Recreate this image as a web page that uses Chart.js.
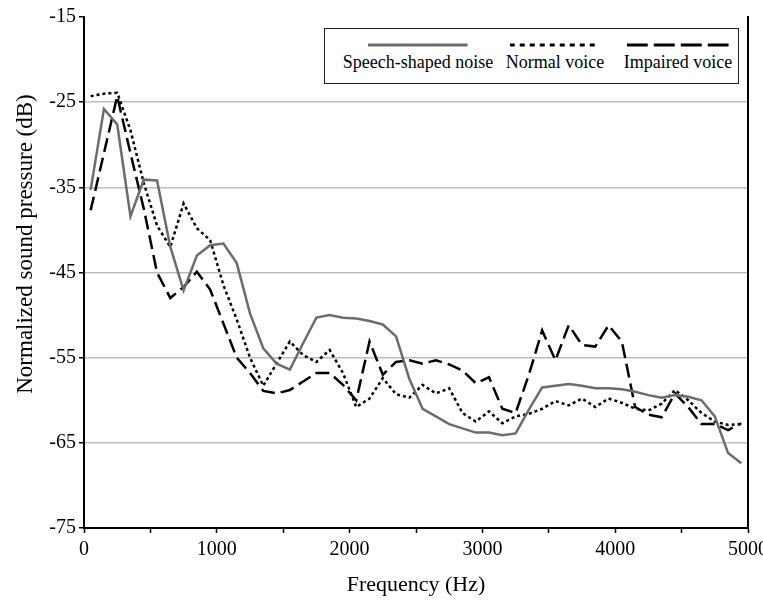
<!DOCTYPE html>
<html>
<head>
<meta charset="utf-8">
<script src="https://cdn.jsdelivr.net/npm/chart.js@4/dist/chart.umd.min.js"></script>
<style>
    body { margin: 0; background: #fff; }
    #wrap { position: relative; width: 763px; height: 600px; }
    #legend {
        position: absolute; left: 324px; top: 28px; width: 413px; height: 54px;
        border: 1px solid #222; background: #fff;
        font-family: "Liberation Serif", "Times New Roman", serif; font-size: 18px; color: #000;
    }
    .item { position: absolute; top: 0; transform: translateX(-50%); text-align: center; }
    .item svg { display: block; margin: 13px auto 0; }
    .item span { display: block; white-space: nowrap; margin-top: 4px; }
</style>
</head>
<body>
<div id="wrap">
    <canvas id="grafico" width="763" height="600"></canvas>
    <div id="legend"></div>
</div>
<script>
// Frequências (Hz)
var frequencias = [50, 150, 250, 350, 450, 550, 650, 750, 850, 950,
    1050, 1150, 1250, 1350, 1450, 1550, 1650, 1750, 1850, 1950,
    2050, 2150, 2250, 2350, 2450, 2550, 2650, 2750, 2850, 2950,
    3050, 3150, 3250, 3350, 3450, 3550, 3650, 3750, 3850, 3950,
    4050, 4150, 4250, 4350, 4450, 4550, 4650, 4750, 4850, 4950];

// Speech-shaped noise
var ruidoFala = [-35.3, -25.8, -27.6, -38.4, -34.1, -34.2, -42.0, -47.1, -43.0, -41.8,
    -41.6, -43.9, -49.8, -53.9, -55.7, -56.4, -53.3, -50.3, -50.0, -50.3,
    -50.4, -50.7, -51.1, -52.5, -57.5, -61.0, -61.9, -62.8, -63.3, -63.8,
    -63.8, -64.1, -63.9, -61.1, -58.5, -58.3, -58.1, -58.3, -58.6, -58.6,
    -58.7, -59.0, -59.4, -59.7, -59.4, -59.6, -60.0, -61.9, -66.2, -67.4];

// Normal voice
var vozNormal = [-24.3, -24.0, -23.9, -28.3, -34.5, -39.5, -42.0, -36.9, -39.8, -41.2,
    -46.5, -50.5, -55.0, -58.3, -55.7, -53.1, -54.7, -55.5, -54.1, -56.8,
    -60.8, -59.8, -57.4, -59.3, -59.7, -58.2, -59.2, -58.6, -61.5, -62.5,
    -61.3, -62.7, -61.9, -61.6, -61.0, -60.1, -60.6, -59.8, -60.8, -59.8,
    -60.3, -61.0, -61.2, -60.4, -58.8, -60.0, -61.5, -62.5, -62.9, -62.8];

// Impaired voice
var vozAlterada = [-37.7, -31.0, -24.3, -31.0, -37.5, -45.0, -48.0, -46.7, -44.9, -47.0,
    -51.0, -55.0, -56.8, -58.9, -59.2, -58.8, -57.8, -56.8, -56.8, -58.2,
    -60.0, -53.1, -57.0, -55.5, -55.3, -55.7, -55.3, -55.8, -56.5, -58.0,
    -57.3, -61.0, -61.5, -57.0, -51.8, -55.3, -51.2, -53.5, -53.7, -51.2,
    -53.1, -60.8, -61.7, -62.0, -59.2, -60.8, -62.8, -62.8, -63.5, -62.7];

var nomesSeries = ['Speech-shaped noise', 'Normal voice', 'Impaired voice'];

var fonte = '"Liberation Serif", "Times New Roman", serif';

function pontos(valores) {
    return valores.map(function (v, i) { return { x: frequencias[i], y: v }; });
}

// Título do eixo Y desenhado um pouco acima do centro, como no original
var tituloY = {
    id: 'tituloY',
    afterDraw: function (chart) {
        var ctx = chart.ctx;
        ctx.save();
        ctx.translate(26, 244);
        ctx.rotate(-Math.PI / 2);
        ctx.font = '23px ' + fonte;
        ctx.fillStyle = '#000';
        ctx.textAlign = 'center';
        ctx.textBaseline = 'middle';
        ctx.fillText('Normalized sound pressure (dB)', 0, 0);
        ctx.restore();
    }
};

var ctx = document.getElementById('grafico').getContext('2d');
var grafico = new Chart(ctx, {
    type: 'line',
    data: {
        datasets: [{
            label: nomesSeries[0],
            data: pontos(ruidoFala),
            borderColor: '#6c6c6c',
            borderWidth: 2.5,
            pointRadius: 0,
            tension: 0
        }, {
            label: nomesSeries[1],
            data: pontos(vozNormal),
            borderColor: '#000',
            borderWidth: 2.5,
            borderDash: [3, 3],
            pointRadius: 0,
            tension: 0
        }, {
            label: nomesSeries[2],
            data: pontos(vozAlterada),
            borderColor: '#000',
            borderWidth: 2.5,
            borderDash: [14, 6],
            pointRadius: 0,
            tension: 0
        }]
    },
    options: {
        responsive: false,
        animation: false,
        layout: { padding: { top: 17, left: 0, right: 0, bottom: 0 } },
        plugins: {
            legend: { display: false },
            tooltip: { enabled: false }
        },
        scales: {
            x: {
                type: 'linear',
                min: 0,
                max: 5000,
                afterFit: function (scale) {
                    scale.height = 72;
                    scale.paddingRight = 0;
                    scale.paddingLeft = 0;
                },
                ticks: {
                    stepSize: 500,
                    autoSkip: false,
                    maxRotation: 0,
                    padding: 5,
                    color: '#000',
                    font: { family: fonte, size: 20 },
                    callback: function (v) { return v % 1000 === 0 ? v : ''; }
                },
                grid: { drawOnChartArea: false, drawTicks: true, tickLength: 5, tickColor: '#000', tickWidth: 1.5 },
                border: { color: '#000', width: 2 },
                title: {
                    display: true,
                    text: 'Frequency (Hz)',
                    color: '#000',
                    font: { family: fonte, size: 22 },
                    padding: { top: 0, bottom: 2 }
                }
            },
            y: {
                min: -75,
                max: -15,
                afterFit: function (scale) { scale.width = 84; },
                ticks: {
                    stepSize: 10,
                    padding: 3,
                    color: '#000',
                    font: { family: fonte, size: 20 }
                },
                grid: {
                    color: function (c) {
                        return (c.tick && (c.tick.value === -15 || c.tick.value === -75)) ? 'rgba(0,0,0,0)' : '#bdbdbd';
                    },
                    lineWidth: 1.5,
                    tickLength: 5,
                    tickColor: '#000',
                    tickWidth: 1.5
                },
                border: { color: '#000', width: 2 }
            },
            y2: {
                position: 'right',
                min: -75,
                max: -15,
                afterFit: function (scale) { scale.width = 15; },
                ticks: { display: false },
                grid: { display: false, drawTicks: false },
                border: { color: '#000', width: 2 }
            }
        }
    },
    plugins: [tituloY]
});

// Legenda em HTML com as amostras de linha tiradas dos datasets
var centrosLegenda = [93, 230, 353];
var largurasAmostra = [100, 90, 102];
var legenda = document.getElementById('legend');
grafico.data.datasets.forEach(function (ds, i) {
    var item = document.createElement('div');
    item.className = 'item';
    item.style.left = centrosLegenda[i] + 'px';
    var w = largurasAmostra[i];
    var dash = ds.borderDash ? (i === 1 ? '5 5' : '21 6') : 'none';
    item.innerHTML = '<svg width="' + w + '" height="6"><line x1="0" y1="3" x2="' + w + '" y2="3" stroke="' + ds.borderColor +
        '" stroke-width="3" stroke-dasharray="' + dash + '"/></svg><span>' + ds.label + '</span>';
    legenda.appendChild(item);
});
</script>
</body>
</html>
